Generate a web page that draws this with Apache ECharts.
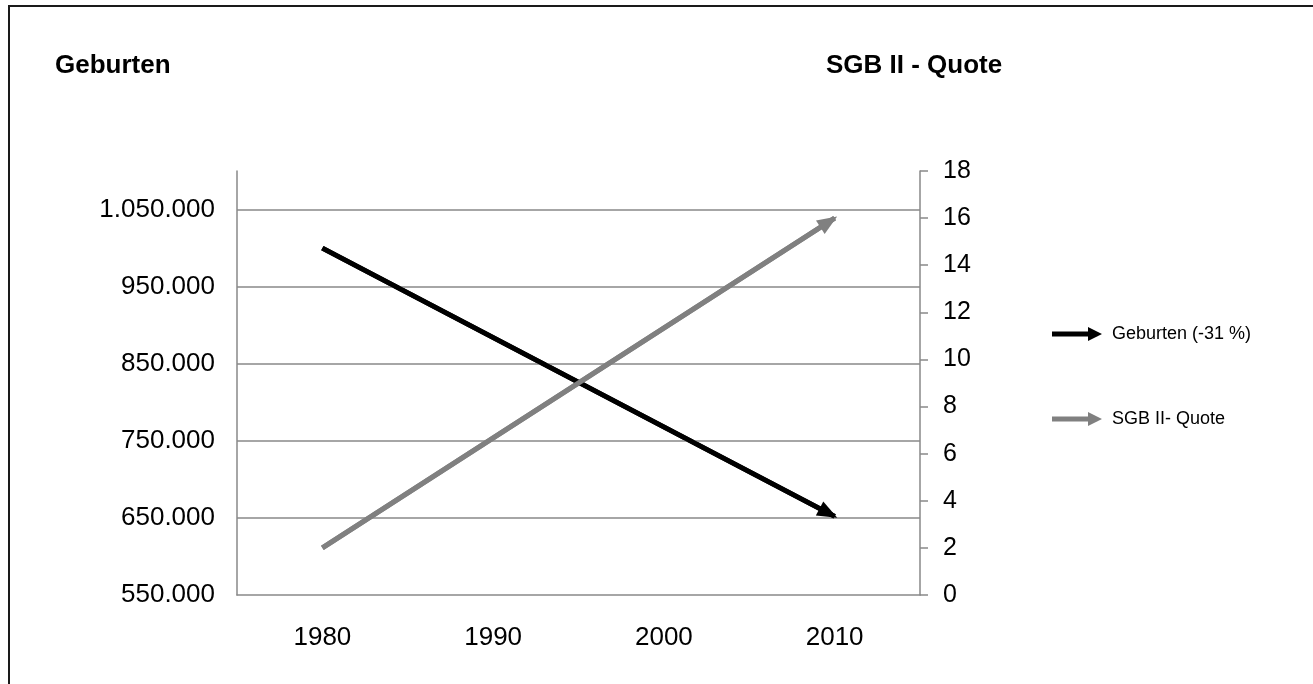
<!DOCTYPE html>
<html>
<head>
<meta charset="utf-8">
<script src="https://cdn.jsdelivr.net/npm/echarts@6/dist/echarts.min.js"></script>
<style>html,body{margin:0;padding:0;background:#fff}#c{width:1313px;height:684px}</style>
</head>
<body>
<div id="c"></div>
<script>
const years = ['1980', '1990', '2000', '2010'];
const geburten = [1000000, null, null, 652000];
const sgbQuote = [2, null, null, 16];
const leftGridValues = [650000, 750000, 850000, 950000, 1050000];
const seriesNames = ['Geburten (-31 %)', 'SGB II- Quote'];
const titles = ['Geburten', 'SGB II - Quote'];

function fmtDE(v) {
  return String(v).replace(/\B(?=(\d{3})+(?!\d))/g, '.');
}
const FONT = '"Liberation Sans", Arial, sans-serif';
const AX = '#898989';
const arrowIcon = 'path://M0,4.5 L36,4.5 L36,0 L50,7 L36,14 L36,9.5 L0,9.5 Z';
const arrowHead = 'path://M10,0 L20,26 L0,26 Z';

function endpoints(arr) {
  const idx = [];
  arr.forEach((v, i) => { if (v !== null) idx.push(i); });
  return [[{ coord: [idx[0], arr[idx[0]]] }, { coord: [idx[idx.length - 1], arr[idx[idx.length - 1]]] }]];
}

function arrowMarkLine(color, arr) {
  return {
    silent: true, symbol: ['none', arrowHead], symbolSize: [16, 20], symbolOffset: [0, [0, 7]],
    label: { show: false },
    lineStyle: { color: color, width: 5, type: 'solid', cap: 'butt' },
    data: endpoints(arr)
  };
}

const chart = echarts.init(document.getElementById('c'));
chart.setOption({
  animation: false,
  backgroundColor: '#fff',
  textStyle: { fontFamily: FONT },
  title: [
    { text: titles[0], left: 55, top: 53, padding: 0, textStyle: { fontFamily: FONT, fontSize: 26, fontWeight: 'bold', color: '#000' } },
    { text: titles[1], left: 826, top: 53, padding: 0, textStyle: { fontFamily: FONT, fontSize: 26, fontWeight: 'bold', color: '#000' } }
  ],
  graphic: [{
    type: 'rect', shape: { x: 9, y: 6, width: 1400, height: 800 },
    style: { fill: 'none', stroke: '#1a1a1a', lineWidth: 2 }, silent: true
  }],
  legend: {
    orient: 'vertical', left: 1052, top: 325, padding: 0,
    itemWidth: 50, itemHeight: 14, itemGap: 67,
    textStyle: { fontFamily: FONT, fontSize: 18, color: '#000', padding: [0, 0, 0, 5] },
    data: [
      { name: seriesNames[0], icon: arrowIcon, itemStyle: { color: '#000' } },
      { name: seriesNames[1], icon: arrowIcon, itemStyle: { color: '#808080' } }
    ]
  },
  grid: { left: 237, right: 393, top: 171, bottom: 89, containLabel: false },
  xAxis: {
    type: 'category', data: years, boundaryGap: true,
    axisLine: { lineStyle: { color: AX, width: 1.5 } },
    axisTick: { show: false },
    axisLabel: { color: '#000', fontSize: 26, fontFamily: FONT, margin: 30 }
  },
  yAxis: [
    {
      type: 'value', position: 'left', min: 550000, max: 1100000, interval: 100000,
      axisLine: { show: true, lineStyle: { color: AX, width: 1.5 } },
      axisTick: { show: false },
      splitLine: { show: false },
      axisLabel: {
        color: '#000', fontSize: 26, fontFamily: FONT, margin: 22, showMaxLabel: false,
        formatter: v => (v >= 1100000 ? '' : fmtDE(v))
      }
    },
    {
      type: 'value', position: 'right', min: 0, max: 18, interval: 2,
      axisLine: { show: true, lineStyle: { color: AX, width: 1.5 } },
      axisTick: { show: true, inside: false, length: 8, lineStyle: { color: AX, width: 1.5 } },
      splitLine: { show: false },
      axisLabel: { color: '#000', fontSize: 25, fontFamily: FONT, margin: 23 }
    }
  ],
  series: [
    {
      name: 'grid', type: 'line', yAxisIndex: 0, data: [], silent: true, z: 1,
      markLine: {
        silent: true, symbol: ['none', 'none'], label: { show: false },
        lineStyle: { color: AX, width: 1.5, type: 'solid' },
        data: leftGridValues.map(v => ({ yAxis: v }))
      }
    },
    {
      name: seriesNames[0], type: 'line', yAxisIndex: 0, data: geburten, connectNulls: true,
      showSymbol: false, symbol: 'none',
      lineStyle: { color: '#000', width: 5, cap: 'butt' }, itemStyle: { color: '#000' },
      markLine: arrowMarkLine('#000', geburten)
    },
    {
      name: seriesNames[1], type: 'line', yAxisIndex: 1, data: sgbQuote, connectNulls: true,
      showSymbol: false, symbol: 'none',
      lineStyle: { color: '#808080', width: 5, cap: 'butt' }, itemStyle: { color: '#808080' },
      markLine: arrowMarkLine('#808080', sgbQuote)
    }
  ]
});
</script>
</body>
</html>
